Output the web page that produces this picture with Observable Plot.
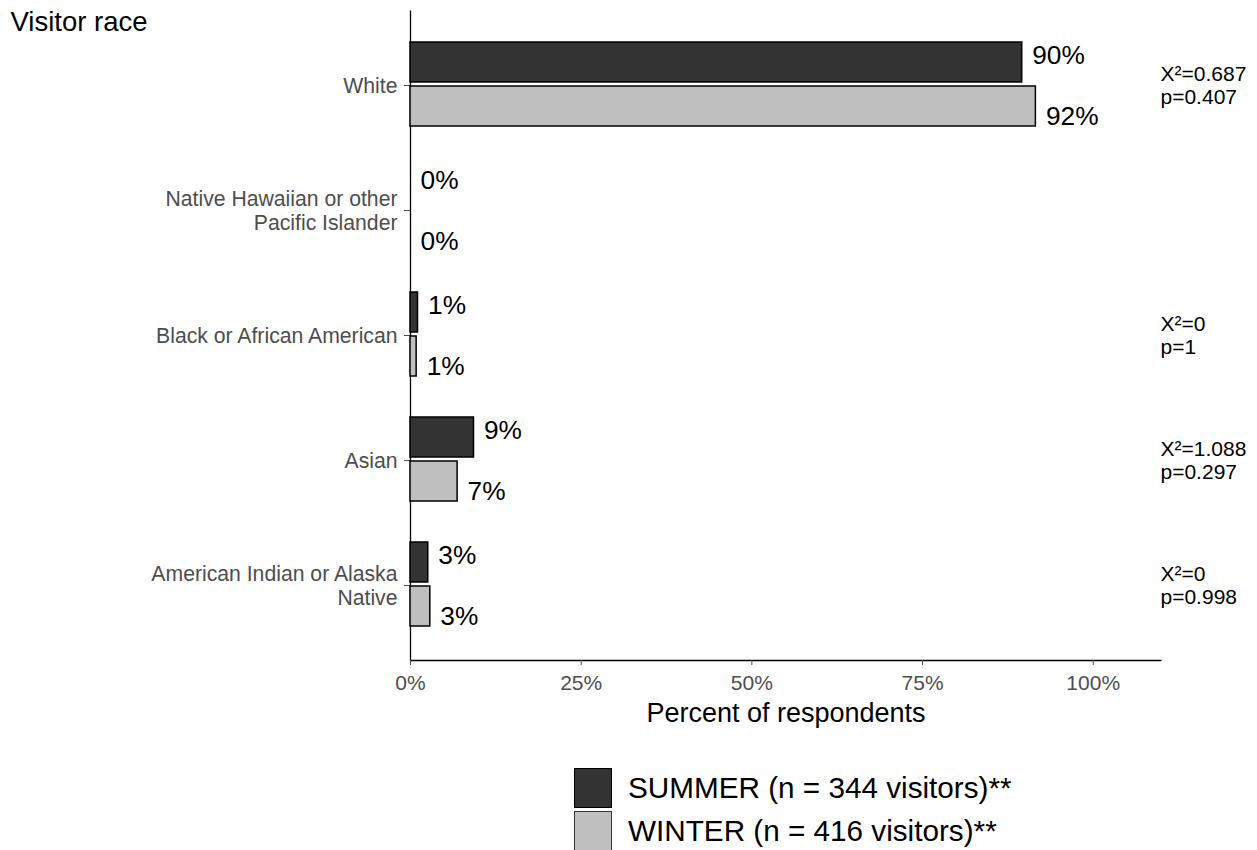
<!DOCTYPE html>
<html>
<head>
<meta charset="utf-8">
<script src="https://cdn.jsdelivr.net/npm/d3@7"></script>
<script src="https://cdn.jsdelivr.net/npm/@observablehq/plot@0.6"></script>
<style>
  html, body { margin: 0; padding: 0; background: #fff; }
  body { font-family: "Liberation Sans", Arial, sans-serif; width: 1257px; height: 850px; overflow: hidden; position: relative; }
  #legend { position: absolute; left: 574px; top: 768px; display: flex; flex-direction: column; gap: 3px; }
  .item { display: flex; align-items: center; height: 40px; }
  .sw { width: 36px; height: 38px; border: 1.5px solid #000; box-sizing: content-box; }
  .lab { margin-left: 16px; font-size: 29.7px; color: #000; white-space: nowrap; }
</style>
</head>
<body>
<div id="chart"></div>
<div id="legend"></div>
<script>
const categories = ["White", "Native Hawaiian or other Pacific Islander", "Black or African American", "Asian", "American Indian or Alaska Native"];
const categoryLabels = ["White", "Native Hawaiian or other\nPacific Islander", "Black or African American", "Asian", "American Indian or Alaska\nNative"];
const summerValues = [89.6, 0, 1.1, 9.3, 2.6];
const winterValues = [91.6, 0, 0.9, 6.9, 2.9];
const summerLabels = ["90%", "0%", "1%", "9%", "3%"];
const winterLabels = ["92%", "0%", "1%", "7%", "3%"];
const chiSquare = ["0.687", null, "0", "1.088", "0"];
const pValues = ["0.407", null, "1", "0.297", "0.998"];
const xTicks = [0, 25, 50, 75, 100];
const seriesNames = ["SUMMER (n = 344 visitors)**", "WINTER (n = 416 visitors)**"];
const seriesColors = ["#333333", "#bfbfbf"];

const summer = categories.map((c, i) => ({cat: c, value: summerValues[i], label: summerLabels[i]}));
const winter = categories.map((c, i) => ({cat: c, value: winterValues[i], label: winterLabels[i]}));
const stats = categories.map((c, i) => ({cat: c, text: chiSquare[i] == null ? "" : `X²=${chiSquare[i]}\np=${pValues[i]}`}));

const W = 1257, H = 745, mL = 410, mR = 96, mT = 10, mB = 85;
const fw = W - mL - mR, fh = H - mT - mB;

const chart = Plot.plot({
  width: W,
  height: H,
  marginLeft: mL,
  marginRight: mR,
  marginTop: mT,
  marginBottom: mB,
  style: {fontFamily: "'Liberation Sans', Arial, sans-serif", background: "#fff", overflow: "visible"},
  x: {domain: [0, 110], label: null},
  y: {type: "band", domain: categories, padding: 0.2, label: null},
  marks: [
    Plot.frame({stroke: "#000", strokeWidth: 1.3, strokeDasharray: `0 ${fw + fh} ${fw + fh}`}),
    Plot.axisX({ticks: xTicks, tickFormat: d => d + "%", tickSize: 5, tickPadding: 10, fontSize: 21, color: "#4d4d4d", label: null}),
    Plot.axisY({tickFormat: d => categoryLabels[categories.indexOf(d)], tickSize: 6, tickPadding: 7, fontSize: 21.2, lineHeight: 1.13, color: "#4d4d4d", label: null}),
    Plot.barX(summer, {x1: 0, x2: "value", y: "cat", fill: seriesColors[0], stroke: "#000", strokeWidth: 1.5, insetTop: 7, insetBottom: 53}),
    Plot.barX(winter, {x1: 0, x2: "value", y: "cat", fill: seriesColors[1], stroke: "#000", strokeWidth: 1.5, insetTop: 51, insetBottom: 9}),
    Plot.text(summer, {x: "value", y: "cat", text: "label", dx: 10, dy: -30, textAnchor: "start", fontSize: 26.3, fill: "#000"}),
    Plot.text(winter, {x: "value", y: "cat", text: "label", dx: 10, dy: 31, textAnchor: "start", fontSize: 26.3, fill: "#000"}),
    Plot.text(stats, {x: 110, y: "cat", text: "text", dx: -1, textAnchor: "start", fontSize: 21, lineHeight: 1.08, fill: "#000"}),
    Plot.text(["Visitor race"], {frameAnchor: "top-left", dx: -400, dy: 12, textAnchor: "start", lineAnchor: "middle", fontSize: 27.5, fill: "#000"}),
    Plot.text(["Percent of respondents"], {frameAnchor: "bottom", dy: 53, lineAnchor: "middle", fontSize: 27, fill: "#000"})
  ]
});
document.getElementById("chart").appendChild(chart);

const legend = document.getElementById("legend");
seriesNames.forEach((name, i) => {
  const item = document.createElement("div");
  item.className = "item";
  const sw = document.createElement("div");
  sw.className = "sw";
  sw.style.background = seriesColors[i];
  if (i === 1) sw.style.borderColor = "#333";
  const lab = document.createElement("span");
  lab.className = "lab";
  lab.textContent = name;
  item.appendChild(sw);
  item.appendChild(lab);
  legend.appendChild(item);
});
</script>
</body>
</html>
